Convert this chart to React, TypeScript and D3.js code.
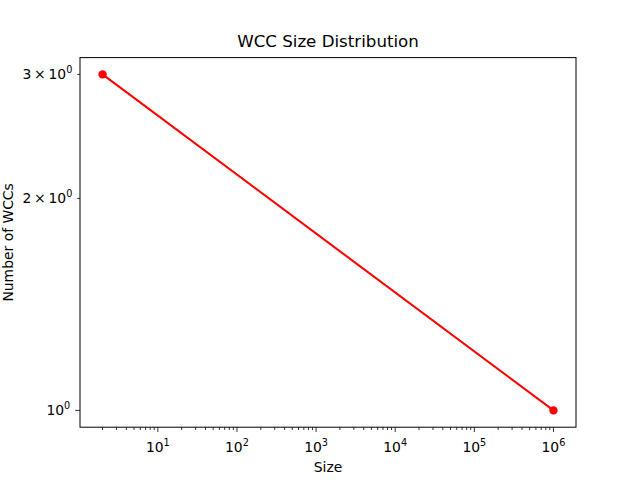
import React from "react";
import * as d3 from "d3";

const sizes = [2, 1000000];
const counts = [3, 1];
const xMajorTicks = [1, 2, 3, 4, 5, 6];
const yTicks = [
  { v: 1, base: "", exp: "0", minor: false },
  { v: 2, base: "2", exp: "0", minor: true },
  { v: 3, base: "3", exp: "0", minor: true },
];

const W = 640, H = 480;
const L = 80, R = 576, T = 57.6, B = 427.2;
const FONT = "DejaVu Sans, sans-serif";

export default function App() {
  const lx = sizes.map((s) => Math.log10(s));
  const ly = counts.map((c) => Math.log10(c));
  const xmin = d3.min(lx)!, xmax = d3.max(lx)!;
  const ymin = d3.min(ly)!, ymax = d3.max(ly)!;
  const xm = (xmax - xmin) * 0.05, ym = (ymax - ymin) * 0.05;
  const x = d3.scaleLog().domain([10 ** (xmin - xm), 10 ** (xmax + xm)]).range([L, R]);
  const y = d3.scaleLog().domain([10 ** (ymin - ym), 10 ** (ymax + ym)]).range([B, T]);

  const [d0, d1] = x.domain();
  const minorX: number[] = [];
  for (let e = Math.floor(Math.log10(d0)); e <= Math.ceil(Math.log10(d1)); e++) {
    for (let m = 2; m <= 9; m++) {
      const v = m * 10 ** e;
      if (v >= d0 && v <= d1) minorX.push(v);
    }
  }
  const line = d3.line<number>().x((_, i) => x(sizes[i])).y((_, i) => y(counts[i]));
  const major = 4.86, minor = 2.78, pad = 4.86;

  return (
    <svg width={W} height={H} style={{ display: "block", position: "absolute", left: 0, top: 0 }} fontFamily={FONT}>
      <rect x={0} y={0} width={W} height={H} fill="white" />
      <text x={(L + R) / 2} y={47} textAnchor="middle" fontSize={16.67}>WCC Size Distribution</text>
      <path d={line(sizes) ?? ""} fill="none" stroke="red" strokeWidth={2.08} />
      {sizes.map((s, i) => (
        <circle key={i} cx={x(s)} cy={y(counts[i])} r={4.2} fill="red" />
      ))}
      <rect x={L} y={T} width={R - L} height={B - T} fill="none" stroke="black" strokeWidth={1} />
      {minorX.map((v, i) => (
        <line key={"mx" + i} x1={x(v)} x2={x(v)} y1={B} y2={B + minor} stroke="black" strokeWidth={0.8} />
      ))}
      {xMajorTicks.map((e) => {
        const px = x(10 ** e);
        return (
          <g key={"X" + e}>
            <line x1={px} x2={px} y1={B} y2={B + major} stroke="black" strokeWidth={0.8} />
            <text x={px} y={452} textAnchor="middle" fontSize={13.9}>
              10<tspan fontSize={9.7} dy={-6}>{e}</tspan>
            </text>
          </g>
        );
      })}
      {yTicks.map((t) => {
        const py = y(t.v);
        const len = t.minor ? minor : major;
        const tx = L - len - pad;
        return (
          <g key={"Y" + t.v}>
            <line x1={L - len} x2={L} y1={py} y2={py} stroke="black" strokeWidth={0.8} />
            <text x={tx} y={py + 5} textAnchor="end" fontSize={13.9}>
              {t.base ? `${t.base}\u2009×\u200910` : "10"}
              <tspan fontSize={9.7} dy={-6}>{t.exp}</tspan>
            </text>
          </g>
        );
      })}
      <text x={(L + R) / 2} y={472} textAnchor="middle" fontSize={13.9}>Size</text>
      <text transform={`translate(13,${(T + B) / 2}) rotate(-90)`} textAnchor="middle" fontSize={13.9}>Number of WCCs</text>
    </svg>
  );
}
